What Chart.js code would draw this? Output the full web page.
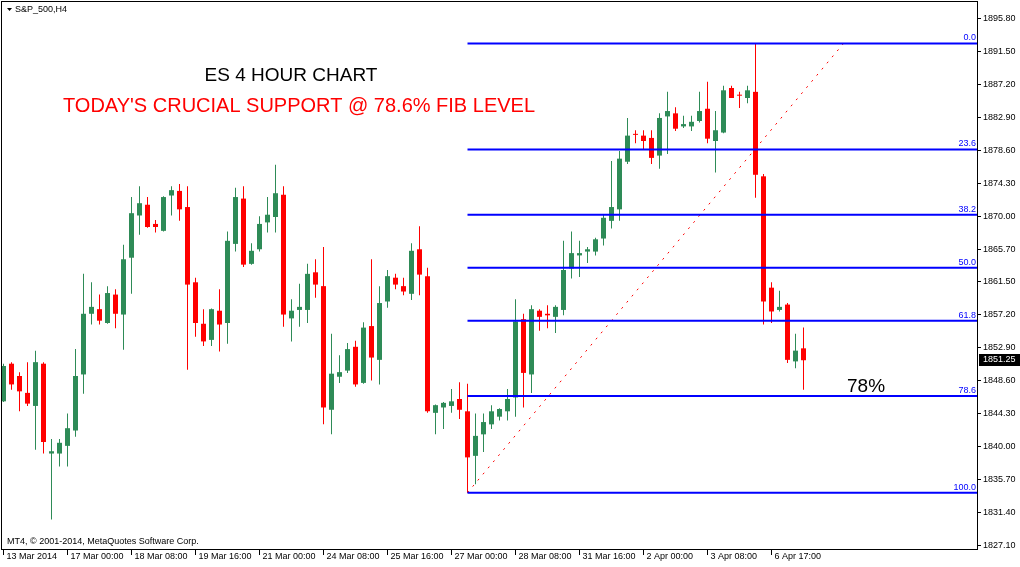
<!DOCTYPE html>
<html lang="en">
<head>
<meta charset="UTF-8">
<title>ES 4 hour chart</title>
<script src="https://cdn.jsdelivr.net/npm/chart.js@4"></script>
<style>
  html, body { margin: 0; padding: 0; background: #fff; }
  canvas { display: block; }
</style>
</head>
<body>
<canvas id="es4h" width="1020" height="567"></canvas>
<script>
// S&P_500 H4 candles (one per 4 hours, oldest first)
const opens = [
  1845.9, 1850.8, 1849.2, 1847.0, 1845.3, 1850.8, 1839.1, 1839.1, 1840.1, 1842.1,
  1849.4, 1857.3, 1857.9, 1856.1, 1859.8, 1857.2, 1864.6, 1870.1, 1871.5, 1869.0,
  1868.1, 1872.7, 1873.3, 1871.2, 1861.4, 1856.0, 1853.9, 1857.7, 1856.1, 1866.4,
  1872.3, 1863.8, 1865.7, 1869.2, 1869.9, 1872.8, 1856.7, 1857.8, 1857.8, 1862.7,
  1860.9, 1844.8, 1849.1, 1849.9, 1853.0, 1848.3, 1855.7, 1851.3, 1858.9, 1862.0,
  1860.9, 1859.9, 1865.7, 1862.2, 1844.4, 1845.1, 1845.3, 1846.2, 1844.6, 1838.8,
  1841.6, 1842.9, 1843.9, 1844.6, 1846.4, 1856.6, 1849.4, 1857.7, 1857.3, 1856.9,
  1857.8, 1863.2, 1864.9, 1865.4, 1865.4, 1867.1, 1869.4, 1870.9, 1877.1, 1880.7,
  1880.5, 1880.2, 1877.9, 1883.0, 1883.4, 1881.7, 1881.7, 1882.4, 1884.0, 1879.8,
  1880.9, 1886.7, 1885.8, 1885.4, 1886.2, 1875.2, 1860.7, 1857.8, 1858.5, 1851.1,
  1852.8
];
const highs = [
  1850.8, 1851.0, 1849.7, 1851.0, 1852.5, 1851.0, 1841.0, 1841.0, 1844.3, 1852.7,
  1862.5, 1861.4, 1859.8, 1860.9, 1860.5, 1866.3, 1872.5, 1873.9, 1872.5, 1869.5,
  1872.6, 1873.9, 1874.2, 1873.9, 1862.0, 1857.9, 1858.0, 1860.5, 1868.0, 1873.7,
  1873.9, 1866.5, 1870.0, 1872.5, 1876.7, 1873.9, 1859.2, 1861.2, 1863.8, 1864.4,
  1866.0, 1854.7, 1851.9, 1853.5, 1853.8, 1856.2, 1864.4, 1860.9, 1863.0, 1862.5,
  1862.0, 1866.5, 1868.7, 1863.3, 1845.5, 1845.8, 1847.5, 1848.4, 1848.2, 1844.3,
  1844.3, 1845.4, 1845.0, 1847.5, 1859.2, 1857.3, 1858.4, 1857.9, 1858.4, 1858.4,
  1866.8, 1868.0, 1866.8, 1866.0, 1867.2, 1870.2, 1877.2, 1878.5, 1882.8, 1881.2,
  1881.2, 1881.2, 1883.4, 1886.2, 1884.2, 1883.1, 1883.1, 1886.2, 1887.5, 1883.7,
  1887.0, 1887.0, 1886.2, 1887.0, 1892.5, 1875.5, 1861.4, 1860.3, 1858.7, 1854.7,
  1855.5
];
const lows = [
  1845.8, 1847.4, 1844.6, 1845.3, 1839.6, 1839.1, 1830.5, 1837.4, 1837.4, 1841.3,
  1846.9, 1855.9, 1855.9, 1856.0, 1855.4, 1852.6, 1859.9, 1867.6, 1868.5, 1867.9,
  1868.0, 1870.1, 1869.4, 1850.0, 1854.3, 1853.1, 1853.1, 1852.4, 1853.4, 1865.4,
  1863.4, 1863.7, 1865.4, 1867.9, 1867.9, 1855.6, 1853.7, 1855.6, 1856.1, 1859.4,
  1842.9, 1841.6, 1848.3, 1849.6, 1847.8, 1848.2, 1848.6, 1848.1, 1858.1, 1860.5,
  1859.7, 1859.1, 1859.7, 1844.4, 1841.6, 1842.3, 1844.4, 1843.6, 1834.0, 1835.1,
  1839.3, 1842.3, 1843.4, 1843.4, 1843.9, 1845.1, 1847.0, 1855.1, 1855.4, 1854.8,
  1857.1, 1861.9, 1862.1, 1863.9, 1864.9, 1866.2, 1868.4, 1869.4, 1876.8, 1879.5,
  1878.7, 1876.8, 1876.2, 1878.1, 1881.1, 1881.5, 1881.1, 1882.2, 1879.5, 1875.7,
  1880.8, 1885.4, 1884.1, 1884.7, 1872.4, 1855.9, 1856.1, 1857.6, 1850.9, 1850.2,
  1847.4
];
const closes = [
  1850.5, 1848.1, 1847.2, 1845.6, 1851.0, 1840.6, 1839.4, 1840.5, 1842.4, 1849.2,
  1857.3, 1858.2, 1856.4, 1860.0, 1857.3, 1864.4, 1870.4, 1871.7, 1868.6, 1868.6,
  1872.5, 1873.4, 1870.9, 1861.1, 1856.1, 1853.7, 1857.9, 1855.9, 1866.8, 1872.5,
  1863.7, 1865.5, 1869.0, 1870.2, 1873.0, 1857.2, 1857.7, 1858.2, 1862.5, 1861.1,
  1845.1, 1849.5, 1849.7, 1852.7, 1848.1, 1855.5, 1851.6, 1858.7, 1862.2, 1861.1,
  1860.2, 1865.5, 1862.4, 1844.6, 1845.4, 1845.7, 1845.9, 1844.8, 1838.6, 1841.4,
  1843.2, 1844.6, 1844.9, 1846.2, 1856.3, 1849.6, 1857.9, 1856.9, 1857.1, 1858.2,
  1863.0, 1865.2, 1865.2, 1865.7, 1867.0, 1869.8, 1871.2, 1877.5, 1880.5, 1880.6,
  1879.8, 1877.6, 1882.8, 1883.7, 1881.4, 1882.0, 1882.3, 1883.7, 1880.1, 1881.2,
  1886.4, 1885.4, 1885.7, 1886.4, 1875.4, 1858.9, 1857.6, 1858.2, 1851.3, 1852.5,
  1851.25
];

// time axis: a label every 8 bars
const xTickIdx = [0, 8, 16, 24, 32, 40, 48, 56, 64, 72, 80, 88, 96];
const xTickLabels = ['13 Mar 2014', '17 Mar 00:00', '18 Mar 08:00', '19 Mar 16:00', '21 Mar 00:00',
  '24 Mar 08:00', '25 Mar 16:00', '27 Mar 00:00', '28 Mar 08:00', '31 Mar 16:00',
  '2 Apr 00:00', '3 Apr 08:00', '6 Apr 17:00'];
const yTickLabels = ['1895.80', '1891.50', '1887.20', '1882.90', '1878.60', '1874.30', '1870.00',
  '1865.70', '1861.50', '1857.20', '1852.90', '1848.60', '1844.30', '1840.00', '1835.70',
  '1831.40', '1827.10'];

// fibonacci retracement drawn from the low bar (58) to the high
const fibLabels = ['0.0', '23.6', '38.2', '50.0', '61.8', '78.6', '100.0'];
const fibPrices = [1892.5, 1878.7, 1870.2, 1863.3, 1856.4, 1846.6, 1834.0];
const fibStart = 58;
const trendFrom = { x: 58, y: 1834.0 };
const trendTo = { x: 105, y: 1892.5 };

const GREEN = '#2E8B57';
const RED = '#FF0000';
const BLUE = '#0000FF';
const X_MIN = -0.1875, X_MAX = 121.6875;
const FONT = "'Liberation Sans', Arial, sans-serif";

Chart.defaults.font.family = FONT;

const candleColor = ctx => closes[ctx.dataIndex] >= opens[ctx.dataIndex] ? GREEN : RED;

const wicks = lows.map((l, i) => ({ x: i, y: [l, highs[i]] }));
const bodies = opens.map((o, i) => ({ x: i, y: [o, closes[i]] }));

const fibSets = fibPrices.map(p => ({
  type: 'line',
  data: [{ x: fibStart, y: p }, { x: X_MAX, y: p }],
  borderColor: BLUE,
  borderWidth: 2,
  pointRadius: 0,
  order: 0
}));

// no edge padding for the axes, the frame sits right on the canvas border
const noEdgePad = s => {
  s.paddingTop = 0; s.paddingBottom = 0;
  s.paddingLeft = 0; s.paddingRight = 0;
};

// texts, frame and price box in MT4 style
const mt4Overlay = {
  id: 'mt4Overlay',
  afterDraw(chart) {
    const { ctx, chartArea: a, scales: { y } } = chart;
    ctx.save();
    ctx.strokeStyle = '#000';
    ctx.lineWidth = 1;
    ctx.strokeRect(a.left - 0.5, a.top - 0.5, a.right - a.left + 1, a.bottom - a.top + 1);

    // little menu arrow + symbol name
    ctx.fillStyle = '#000';
    ctx.beginPath();
    ctx.moveTo(7, 8); ctx.lineTo(12, 8); ctx.lineTo(9.5, 11);
    ctx.closePath();
    ctx.fill();
    ctx.textBaseline = 'middle';
    ctx.font = '9px ' + FONT;
    ctx.fillText('S&P_500,H4', 15, 10);
    ctx.fillText('MT4, \u00A9 2001-2014, MetaQuotes Software Corp.', 7, 542);

    // fib level labels
    ctx.fillStyle = BLUE;
    ctx.textAlign = 'right';
    ctx.textBaseline = 'bottom';
    fibPrices.forEach((p, k) => {
      ctx.fillText(fibLabels[k], a.right - 1, Math.round(y.getPixelForValue(p)) - 1);
    });

    // current price box
    const last = closes[closes.length - 1];
    const py = Math.round(y.getPixelForValue(last));
    ctx.fillStyle = '#000';
    ctx.fillRect(a.right + 2, py - 6, chart.width - a.right - 2, 12);
    ctx.fillStyle = '#fff';
    ctx.textAlign = 'left';
    ctx.textBaseline = 'middle';
    ctx.fillText(last.toFixed(2), a.right + 6, py);

    // annotations
    ctx.textBaseline = 'alphabetic';
    ctx.textAlign = 'center';
    ctx.fillStyle = '#000';
    ctx.font = '19px ' + FONT;
    ctx.fillText('ES 4 HOUR CHART', 291, 81);
    ctx.fillStyle = RED;
    ctx.font = '20px ' + FONT;
    ctx.fillText("TODAY'S CRUCIAL SUPPORT @ 78.6% FIB LEVEL", 299, 112);
    ctx.fillStyle = '#000';
    ctx.textAlign = 'left';
    ctx.font = '19px ' + FONT;
    ctx.fillText('78%', 847, 392);
    ctx.restore();
  }
};

new Chart(document.getElementById('es4h'), {
  type: 'bar',
  data: {
    datasets: [
      ...fibSets,
      {
        type: 'line',
        data: [trendFrom, trendTo],
        borderColor: RED,
        borderWidth: 1,
        borderDash: [2, 6],
        pointRadius: 0,
        order: 0
      },
      {
        data: bodies,
        backgroundColor: candleColor,
        borderWidth: 0,
        barThickness: 5,
        minBarLength: 1,
        inflateAmount: 0,
        grouped: false,
        order: 1
      },
      {
        data: wicks,
        backgroundColor: candleColor,
        borderWidth: 0,
        barThickness: 1,
        inflateAmount: 0,
        grouped: false,
        order: 2
      }
    ]
  },
  options: {
    responsive: false,
    animation: false,
    layout: { padding: { left: 2, top: 2, right: 0, bottom: 0 } },
    plugins: { legend: { display: false }, tooltip: { enabled: false } },
    scales: {
      x: {
        type: 'linear',
        min: X_MIN,
        max: X_MAX,
        offset: false,
        border: { display: false },
        grid: { drawOnChartArea: false, drawTicks: true, tickLength: 6, color: '#000', offset: false },
        ticks: {
          autoSkip: false,
          maxRotation: 0,
          align: 'start',
          labelOffset: 3,
          padding: -4,
          color: '#000',
          font: { size: 9 },
          callback: (v, i) => xTickLabels[i]
        },
        afterBuildTicks: s => { s.ticks = xTickIdx.map(v => ({ value: v })); },
        afterFit: s => { s.height = 18; noEdgePad(s); }
      },
      y: {
        type: 'linear',
        position: 'right',
        min: 1826.67,
        max: 1897.9,
        border: { display: false },
        grid: { drawOnChartArea: false, drawTicks: true, tickLength: 4, color: '#000' },
        ticks: {
          padding: 2,
          color: '#000',
          font: { size: 9 },
          callback: (v, i) => yTickLabels[i]
        },
        afterBuildTicks: s => { s.ticks = yTickLabels.map(t => ({ value: parseFloat(t) })); },
        afterFit: s => { s.width = 43; noEdgePad(s); }
      }
    }
  },
  plugins: [mt4Overlay]
});
</script>
</body>
</html>
